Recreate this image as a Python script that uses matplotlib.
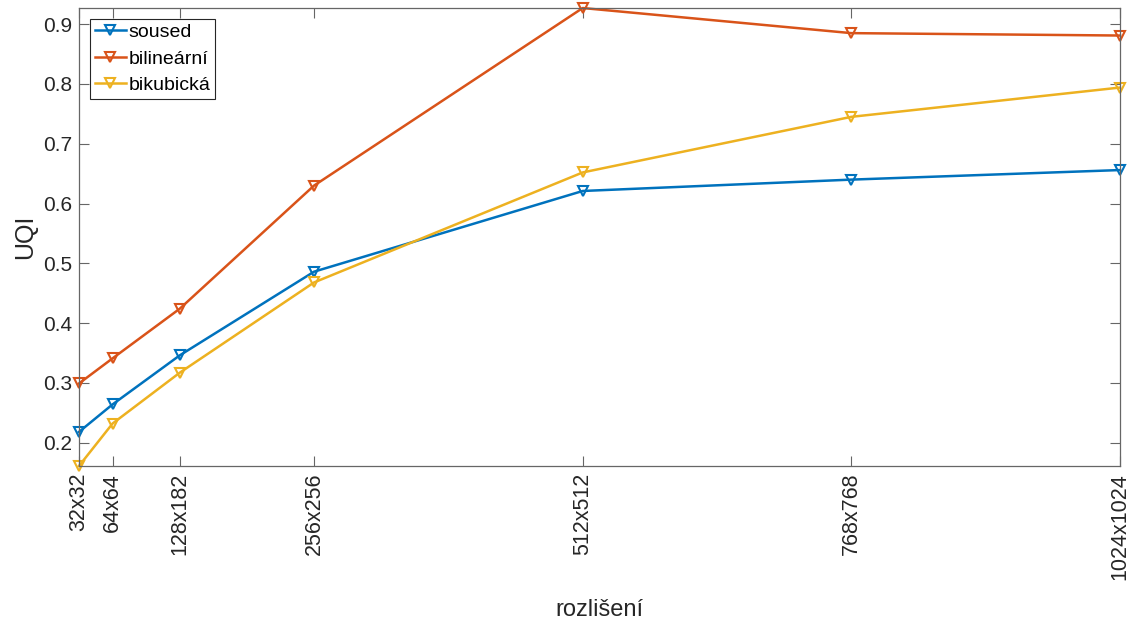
import matplotlib
matplotlib.use("Agg")
import matplotlib.pyplot as plt

plt.rcParams['font.family'] = ['Liberation Sans', 'DejaVu Sans']

# data
resolutions = [32, 64, 128, 256, 512, 768, 1024]
tick_labels = ['32x32', '64x64', '128x182', '256x256', '512x512', '768x768', '1024x1024']
soused = [0.218, 0.264, 0.346, 0.486, 0.621, 0.640, 0.656]
bilinearni = [0.299, 0.341, 0.424, 0.630, 0.927, 0.885, 0.881]
bikubicka = [0.161, 0.232, 0.317, 0.468, 0.652, 0.745, 0.794]

series = [
    ('soused', soused, '#0072BD'),
    ('bilineární', bilinearni, '#D95319'),
    ('bikubická', bikubicka, '#EDB120'),
]

fig = plt.figure(figsize=(11.41, 6.22), dpi=100)
ax = fig.add_axes([0.0692, 0.2508, 0.9124, 0.7363])

for name, vals, col in series:
    ax.plot(resolutions, vals, color=col, lw=1.8, marker='v', markersize=7.5,
            markerfacecolor='none', markeredgewidth=1.5, label=name, clip_on=False)

ax.set_xlim(32, 1024)
ax.set_ylim(min(bikubicka), max(bilinearni))
ax.set_xticks(resolutions)
ax.set_xticklabels(tick_labels, rotation=90, fontsize=15.5)
ax.set_yticks([0.2, 0.3, 0.4, 0.5, 0.6, 0.7, 0.8, 0.9])
ax.set_yticklabels(['0.2', '0.3', '0.4', '0.5', '0.6', '0.7', '0.8', '0.9'])
ax.tick_params(direction='in', top=True, right=True, length=7, width=0.8,
               color='#666666', labelcolor='#262626', pad=5)
ax.tick_params(axis='y', labelsize=15)
for s in ax.spines.values():
    s.set_color('#666666')
    s.set_linewidth(0.9)

ax.set_ylabel('UQI', fontsize=18, color='#262626', labelpad=4)
ax.set_xlabel('rozlišení', fontsize=17, color='#262626', labelpad=14)

leg = ax.legend(loc='upper left', fontsize=14, handlelength=1.6, handletextpad=0.15,
                borderpad=0.25, labelspacing=0.45, fancybox=False, framealpha=1,
                borderaxespad=0.55)
leg.get_frame().set_edgecolor('#262626')
leg.get_frame().set_linewidth(0.8)

fig.savefig('out.png', dpi=100)
